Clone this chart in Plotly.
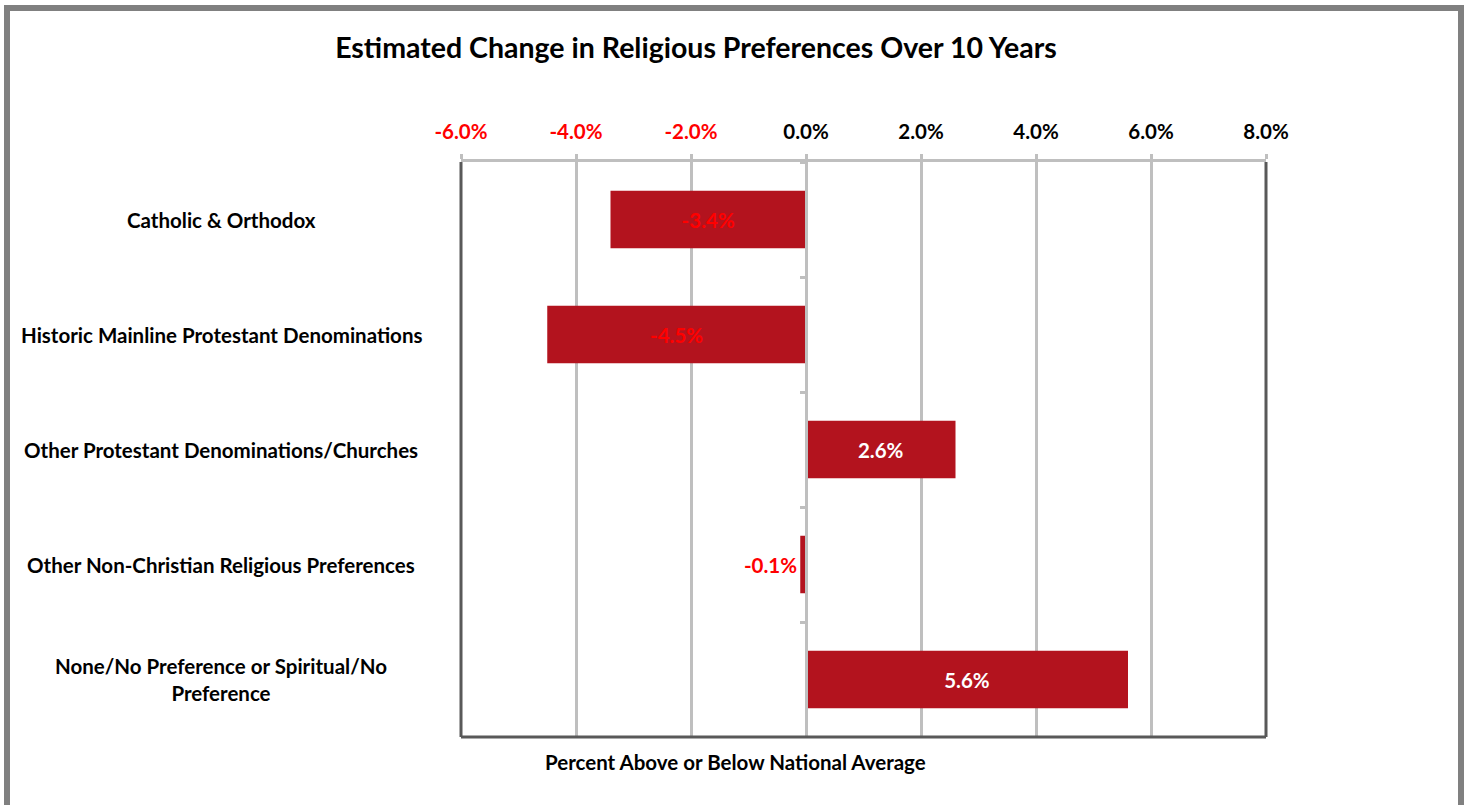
import plotly.graph_objects as go

# Data
categories = [
    "Catholic & Orthodox",
    "Historic Mainline Protestant Denominations",
    "Other Protestant Denominations/Churches",
    "Other Non-Christian Religious Preferences",
    "None/No Preference or Spiritual/No<br>Preference",
]
changes = [-3.4, -4.5, 2.6, -0.1, 5.6]
tick_values = [-6, -4, -2, 0, 2, 4, 6, 8]

# Layout geometry (pixels)
W, H = 1469, 805
ML, MR, MT, MB = 461, 203, 162, 68
PW, PH = W - ML - MR, H - MT - MB
XMIN, XMAX = -6, 8

FONT = "Lato"
FS = 20.5
BAR = "#B3131E"
GRID = "#BFBFBF"
DARK = "#595959"


def px_x(px):
    return (px - ML) / PW


def px_y(py):
    return (H - MB - py) / PH


labels = [f"{v:.1f}%" for v in changes]
label_colors = ["#FF0000" if v < 0 else "#FFFFFF" for v in changes]
label_pos = ["inside" if abs(v) >= 1 else "outside" for v in changes]
tick_text = [
    f"<span style='color:{'#FF0000' if t < 0 else '#000000'}'>{t:.1f}%</span>"
    for t in tick_values
]

fig = go.Figure(
    go.Bar(
        x=changes,
        y=categories,
        orientation="h",
        marker=dict(color=BAR, line=dict(width=0)),
        text=labels,
        textposition=label_pos,
        insidetextanchor="middle",
        textfont=dict(family=FONT, size=FS, weight="bold", color=label_colors),
        cliponaxis=False,
    )
)

fig.update_layout(
    width=W,
    height=H,
    margin=dict(l=ML, r=MR, t=MT, b=MB),
    paper_bgcolor="white",
    plot_bgcolor="white",
    bargap=0.5,
    showlegend=False,
    uniformtext=dict(minsize=FS, mode="show"),
    title=dict(
        text="Estimated Change in Religious Preferences Over 10 Years",
        font=dict(family=FONT, size=28.5, weight="bold", color="black"),
        xref="container",
        yref="container",
        x=696 / W,
        y=1 - 48 / H,
        xanchor="center",
        yanchor="middle",
    ),
    xaxis=dict(
        range=[XMIN, XMAX],
        side="top",
        tickvals=tick_values,
        ticktext=tick_text,
        tickfont=dict(family=FONT, size=FS, weight="bold"),
        showgrid=True,
        gridcolor=GRID,
        gridwidth=3,
        zeroline=False,
        showline=True,
        linecolor=GRID,
        linewidth=3,
        ticks="outside",
        ticklen=5,
        tickwidth=3,
        tickcolor=GRID,
        ticklabelstandoff=7,
        fixedrange=True,
    ),
    yaxis=dict(
        categoryorder="array",
        categoryarray=categories,
        autorange="reversed",
        anchor="free",
        position=(0 - XMIN) / (XMAX - XMIN),
        showticklabels=False,
        showgrid=False,
        zeroline=False,
        showline=True,
        linecolor=GRID,
        linewidth=3,
        ticks="outside",
        tickson="boundaries",
        ticklen=5,
        tickwidth=3,
        tickcolor=GRID,
        fixedrange=True,
    ),
)

# Category names, centred in the left gutter
for cat in categories:
    fig.add_annotation(
        text=cat,
        xref="paper",
        yref="y",
        x=px_x(221),
        y=cat,
        xanchor="center",
        yanchor="middle",
        align="center",
        showarrow=False,
        font=dict(family=FONT, size=FS, weight="bold", color="black"),
    )

# Axis title below the plot
fig.add_annotation(
    text="Percent Above or Below National Average",
    xref="paper",
    yref="paper",
    x=px_x(735),
    y=px_y(762),
    xanchor="center",
    yanchor="middle",
    showarrow=False,
    font=dict(family=FONT, size=FS, weight="bold", color="black"),
)

# Dark frame on left, right and bottom of the plot area
for x0, y0, x1, y1 in [(0, 0, 0, 1), (1, 0, 1, 1), (0, 0, 1, 0)]:
    fig.add_shape(
        type="line", xref="paper", yref="paper",
        x0=x0, y0=y0, x1=x1, y1=y1,
        line=dict(color=DARK, width=3),
    )

# Outer chart border
fig.add_shape(
    type="rect", xref="paper", yref="paper",
    x0=px_x(7), x1=px_x(1461), y0=px_y(8), y1=px_y(812),
    line=dict(color="#808080", width=6),
    fillcolor="rgba(0,0,0,0)",
    layer="above",
)

fig.write_html("out.html")
